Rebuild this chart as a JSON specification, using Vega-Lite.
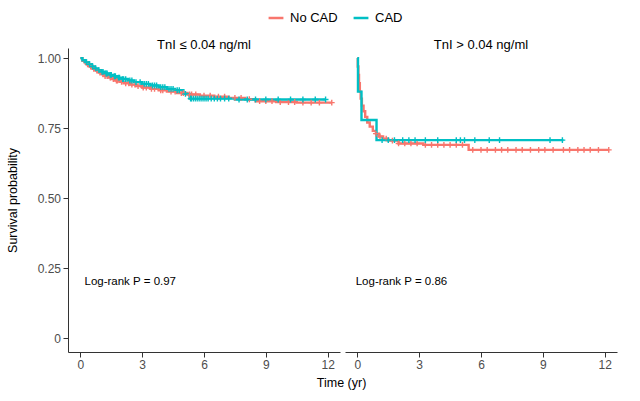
{
  "$schema": "https://vega.github.io/schema/vega-lite/v6.json",
  "background": "white",
  "padding": {"left": 6, "top": 9, "right": 5, "bottom": 5},
  "spacing": 5,
  "title": {"text": "Time (yr)", "orient": "bottom", "anchor": "middle", "fontSize": 12.5, "fontWeight": "normal", "font": "Liberation Sans", "color": "#000000", "offset": 6, "dx": 30},
  "datasets": {
    "curves": [
      {"panel": "L", "group": "No CAD", "t": 0, "s": 1.0},
      {"panel": "L", "group": "No CAD", "t": 0.1, "s": 0.99},
      {"panel": "L", "group": "No CAD", "t": 0.2, "s": 0.985},
      {"panel": "L", "group": "No CAD", "t": 0.3, "s": 0.978},
      {"panel": "L", "group": "No CAD", "t": 0.45, "s": 0.97},
      {"panel": "L", "group": "No CAD", "t": 0.6, "s": 0.962},
      {"panel": "L", "group": "No CAD", "t": 0.75, "s": 0.955},
      {"panel": "L", "group": "No CAD", "t": 0.9, "s": 0.948},
      {"panel": "L", "group": "No CAD", "t": 1.05, "s": 0.942},
      {"panel": "L", "group": "No CAD", "t": 1.2, "s": 0.936},
      {"panel": "L", "group": "No CAD", "t": 1.35, "s": 0.93},
      {"panel": "L", "group": "No CAD", "t": 1.5, "s": 0.925},
      {"panel": "L", "group": "No CAD", "t": 1.7, "s": 0.92},
      {"panel": "L", "group": "No CAD", "t": 1.9, "s": 0.915},
      {"panel": "L", "group": "No CAD", "t": 2.1, "s": 0.91},
      {"panel": "L", "group": "No CAD", "t": 2.4, "s": 0.905},
      {"panel": "L", "group": "No CAD", "t": 2.7, "s": 0.9},
      {"panel": "L", "group": "No CAD", "t": 3.0, "s": 0.895},
      {"panel": "L", "group": "No CAD", "t": 3.4, "s": 0.89},
      {"panel": "L", "group": "No CAD", "t": 3.8, "s": 0.885},
      {"panel": "L", "group": "No CAD", "t": 4.2, "s": 0.88},
      {"panel": "L", "group": "No CAD", "t": 4.7, "s": 0.875},
      {"panel": "L", "group": "No CAD", "t": 5.2, "s": 0.87},
      {"panel": "L", "group": "No CAD", "t": 5.8, "s": 0.866},
      {"panel": "L", "group": "No CAD", "t": 6.5, "s": 0.862},
      {"panel": "L", "group": "No CAD", "t": 7.2, "s": 0.858},
      {"panel": "L", "group": "No CAD", "t": 8.0, "s": 0.853},
      {"panel": "L", "group": "No CAD", "t": 8.5, "s": 0.846},
      {"panel": "L", "group": "No CAD", "t": 9.5, "s": 0.843},
      {"panel": "L", "group": "No CAD", "t": 10.5, "s": 0.841},
      {"panel": "L", "group": "No CAD", "t": 12.2, "s": 0.841},
      {"panel": "L", "group": "CAD", "t": 0, "s": 1.0},
      {"panel": "L", "group": "CAD", "t": 0.1, "s": 0.992},
      {"panel": "L", "group": "CAD", "t": 0.25, "s": 0.985},
      {"panel": "L", "group": "CAD", "t": 0.4, "s": 0.978},
      {"panel": "L", "group": "CAD", "t": 0.55, "s": 0.97},
      {"panel": "L", "group": "CAD", "t": 0.7, "s": 0.963},
      {"panel": "L", "group": "CAD", "t": 0.85, "s": 0.957},
      {"panel": "L", "group": "CAD", "t": 1.0, "s": 0.951},
      {"panel": "L", "group": "CAD", "t": 1.2, "s": 0.945},
      {"panel": "L", "group": "CAD", "t": 1.4, "s": 0.94},
      {"panel": "L", "group": "CAD", "t": 1.6, "s": 0.935},
      {"panel": "L", "group": "CAD", "t": 1.8, "s": 0.93},
      {"panel": "L", "group": "CAD", "t": 2.0, "s": 0.925},
      {"panel": "L", "group": "CAD", "t": 2.3, "s": 0.92},
      {"panel": "L", "group": "CAD", "t": 2.6, "s": 0.914},
      {"panel": "L", "group": "CAD", "t": 3.0, "s": 0.908},
      {"panel": "L", "group": "CAD", "t": 3.4, "s": 0.902},
      {"panel": "L", "group": "CAD", "t": 3.8, "s": 0.896},
      {"panel": "L", "group": "CAD", "t": 4.2, "s": 0.89},
      {"panel": "L", "group": "CAD", "t": 4.6, "s": 0.885},
      {"panel": "L", "group": "CAD", "t": 5.0, "s": 0.872},
      {"panel": "L", "group": "CAD", "t": 5.3, "s": 0.855},
      {"panel": "L", "group": "CAD", "t": 7.5, "s": 0.852},
      {"panel": "L", "group": "CAD", "t": 11.9, "s": 0.852},
      {"panel": "R", "group": "No CAD", "t": 0, "s": 1.0},
      {"panel": "R", "group": "No CAD", "t": 0.02, "s": 0.97},
      {"panel": "R", "group": "No CAD", "t": 0.05, "s": 0.94},
      {"panel": "R", "group": "No CAD", "t": 0.08, "s": 0.91},
      {"panel": "R", "group": "No CAD", "t": 0.12, "s": 0.88},
      {"panel": "R", "group": "No CAD", "t": 0.16, "s": 0.855},
      {"panel": "R", "group": "No CAD", "t": 0.22, "s": 0.83},
      {"panel": "R", "group": "No CAD", "t": 0.3, "s": 0.81},
      {"panel": "R", "group": "No CAD", "t": 0.38, "s": 0.79},
      {"panel": "R", "group": "No CAD", "t": 0.48, "s": 0.77},
      {"panel": "R", "group": "No CAD", "t": 0.6, "s": 0.755},
      {"panel": "R", "group": "No CAD", "t": 0.75, "s": 0.74},
      {"panel": "R", "group": "No CAD", "t": 0.9, "s": 0.73},
      {"panel": "R", "group": "No CAD", "t": 1.05, "s": 0.72},
      {"panel": "R", "group": "No CAD", "t": 1.25, "s": 0.712},
      {"panel": "R", "group": "No CAD", "t": 1.5, "s": 0.705},
      {"panel": "R", "group": "No CAD", "t": 2.0, "s": 0.695},
      {"panel": "R", "group": "No CAD", "t": 3.2, "s": 0.69},
      {"panel": "R", "group": "No CAD", "t": 5.4, "s": 0.672},
      {"panel": "R", "group": "No CAD", "t": 12.2, "s": 0.672},
      {"panel": "R", "group": "CAD", "t": 0, "s": 1.0},
      {"panel": "R", "group": "CAD", "t": 0.03, "s": 0.88},
      {"panel": "R", "group": "CAD", "t": 0.2, "s": 0.779},
      {"panel": "R", "group": "CAD", "t": 0.93, "s": 0.707},
      {"panel": "R", "group": "CAD", "t": 10.0, "s": 0.707}
    ],
    "censors": [
      {"panel": "L", "group": "No CAD", "t": 0.35, "s": 0.978},
      {"panel": "L", "group": "No CAD", "t": 0.5, "s": 0.97},
      {"panel": "L", "group": "No CAD", "t": 0.65, "s": 0.962},
      {"panel": "L", "group": "No CAD", "t": 0.8, "s": 0.955},
      {"panel": "L", "group": "No CAD", "t": 0.95, "s": 0.948},
      {"panel": "L", "group": "No CAD", "t": 1.1, "s": 0.942},
      {"panel": "L", "group": "No CAD", "t": 1.2, "s": 0.936},
      {"panel": "L", "group": "No CAD", "t": 1.3, "s": 0.936},
      {"panel": "L", "group": "No CAD", "t": 1.45, "s": 0.93},
      {"panel": "L", "group": "No CAD", "t": 1.6, "s": 0.925},
      {"panel": "L", "group": "No CAD", "t": 1.75, "s": 0.92},
      {"panel": "L", "group": "No CAD", "t": 1.8, "s": 0.92},
      {"panel": "L", "group": "No CAD", "t": 2.0, "s": 0.915},
      {"panel": "L", "group": "No CAD", "t": 2.2, "s": 0.91},
      {"panel": "L", "group": "No CAD", "t": 2.35, "s": 0.91},
      {"panel": "L", "group": "No CAD", "t": 2.5, "s": 0.905},
      {"panel": "L", "group": "No CAD", "t": 2.65, "s": 0.905},
      {"panel": "L", "group": "No CAD", "t": 2.8, "s": 0.9},
      {"panel": "L", "group": "No CAD", "t": 3.05, "s": 0.895},
      {"panel": "L", "group": "No CAD", "t": 3.2, "s": 0.895},
      {"panel": "L", "group": "No CAD", "t": 3.45, "s": 0.89},
      {"panel": "L", "group": "No CAD", "t": 3.6, "s": 0.89},
      {"panel": "L", "group": "No CAD", "t": 3.9, "s": 0.885},
      {"panel": "L", "group": "No CAD", "t": 4.0, "s": 0.885},
      {"panel": "L", "group": "No CAD", "t": 4.4, "s": 0.88},
      {"panel": "L", "group": "No CAD", "t": 4.6, "s": 0.88},
      {"panel": "L", "group": "No CAD", "t": 4.9, "s": 0.875},
      {"panel": "L", "group": "No CAD", "t": 5.0, "s": 0.875},
      {"panel": "L", "group": "No CAD", "t": 5.3, "s": 0.87},
      {"panel": "L", "group": "No CAD", "t": 5.4, "s": 0.87},
      {"panel": "L", "group": "No CAD", "t": 5.6, "s": 0.87},
      {"panel": "L", "group": "No CAD", "t": 6.0, "s": 0.866},
      {"panel": "L", "group": "No CAD", "t": 6.3, "s": 0.866},
      {"panel": "L", "group": "No CAD", "t": 6.7, "s": 0.862},
      {"panel": "L", "group": "No CAD", "t": 7.0, "s": 0.862},
      {"panel": "L", "group": "No CAD", "t": 7.5, "s": 0.858},
      {"panel": "L", "group": "No CAD", "t": 7.8, "s": 0.858},
      {"panel": "L", "group": "No CAD", "t": 8.2, "s": 0.853},
      {"panel": "L", "group": "No CAD", "t": 8.7, "s": 0.846},
      {"panel": "L", "group": "No CAD", "t": 9.0, "s": 0.846},
      {"panel": "L", "group": "No CAD", "t": 9.3, "s": 0.846},
      {"panel": "L", "group": "No CAD", "t": 9.7, "s": 0.843},
      {"panel": "L", "group": "No CAD", "t": 10.1, "s": 0.843},
      {"panel": "L", "group": "No CAD", "t": 10.4, "s": 0.843},
      {"panel": "L", "group": "No CAD", "t": 10.8, "s": 0.841},
      {"panel": "L", "group": "No CAD", "t": 11.2, "s": 0.841},
      {"panel": "L", "group": "No CAD", "t": 11.6, "s": 0.841},
      {"panel": "L", "group": "No CAD", "t": 12.2, "s": 0.841},
      {"panel": "L", "group": "CAD", "t": 0.3, "s": 0.985},
      {"panel": "L", "group": "CAD", "t": 0.45, "s": 0.978},
      {"panel": "L", "group": "CAD", "t": 0.6, "s": 0.97},
      {"panel": "L", "group": "CAD", "t": 0.75, "s": 0.963},
      {"panel": "L", "group": "CAD", "t": 0.9, "s": 0.957},
      {"panel": "L", "group": "CAD", "t": 1.05, "s": 0.951},
      {"panel": "L", "group": "CAD", "t": 1.1, "s": 0.951},
      {"panel": "L", "group": "CAD", "t": 1.25, "s": 0.945},
      {"panel": "L", "group": "CAD", "t": 1.3, "s": 0.945},
      {"panel": "L", "group": "CAD", "t": 1.45, "s": 0.94},
      {"panel": "L", "group": "CAD", "t": 1.5, "s": 0.94},
      {"panel": "L", "group": "CAD", "t": 1.65, "s": 0.935},
      {"panel": "L", "group": "CAD", "t": 1.7, "s": 0.935},
      {"panel": "L", "group": "CAD", "t": 1.85, "s": 0.93},
      {"panel": "L", "group": "CAD", "t": 1.9, "s": 0.93},
      {"panel": "L", "group": "CAD", "t": 2.05, "s": 0.925},
      {"panel": "L", "group": "CAD", "t": 2.1, "s": 0.925},
      {"panel": "L", "group": "CAD", "t": 2.2, "s": 0.925},
      {"panel": "L", "group": "CAD", "t": 2.4, "s": 0.92},
      {"panel": "L", "group": "CAD", "t": 2.5, "s": 0.92},
      {"panel": "L", "group": "CAD", "t": 2.7, "s": 0.914},
      {"panel": "L", "group": "CAD", "t": 2.9, "s": 0.914},
      {"panel": "L", "group": "CAD", "t": 3.1, "s": 0.908},
      {"panel": "L", "group": "CAD", "t": 3.2, "s": 0.908},
      {"panel": "L", "group": "CAD", "t": 3.3, "s": 0.908},
      {"panel": "L", "group": "CAD", "t": 3.5, "s": 0.902},
      {"panel": "L", "group": "CAD", "t": 3.6, "s": 0.902},
      {"panel": "L", "group": "CAD", "t": 3.7, "s": 0.902},
      {"panel": "L", "group": "CAD", "t": 3.9, "s": 0.896},
      {"panel": "L", "group": "CAD", "t": 4.0, "s": 0.896},
      {"panel": "L", "group": "CAD", "t": 4.1, "s": 0.896},
      {"panel": "L", "group": "CAD", "t": 4.3, "s": 0.89},
      {"panel": "L", "group": "CAD", "t": 4.4, "s": 0.89},
      {"panel": "L", "group": "CAD", "t": 4.5, "s": 0.89},
      {"panel": "L", "group": "CAD", "t": 4.7, "s": 0.885},
      {"panel": "L", "group": "CAD", "t": 4.8, "s": 0.885},
      {"panel": "L", "group": "CAD", "t": 5.1, "s": 0.872},
      {"panel": "L", "group": "CAD", "t": 5.35, "s": 0.855},
      {"panel": "L", "group": "CAD", "t": 5.4, "s": 0.855},
      {"panel": "L", "group": "CAD", "t": 5.5, "s": 0.855},
      {"panel": "L", "group": "CAD", "t": 5.6, "s": 0.855},
      {"panel": "L", "group": "CAD", "t": 5.7, "s": 0.855},
      {"panel": "L", "group": "CAD", "t": 5.8, "s": 0.855},
      {"panel": "L", "group": "CAD", "t": 5.9, "s": 0.855},
      {"panel": "L", "group": "CAD", "t": 6.0, "s": 0.855},
      {"panel": "L", "group": "CAD", "t": 6.1, "s": 0.855},
      {"panel": "L", "group": "CAD", "t": 6.2, "s": 0.855},
      {"panel": "L", "group": "CAD", "t": 6.35, "s": 0.855},
      {"panel": "L", "group": "CAD", "t": 6.5, "s": 0.855},
      {"panel": "L", "group": "CAD", "t": 6.65, "s": 0.855},
      {"panel": "L", "group": "CAD", "t": 6.8, "s": 0.855},
      {"panel": "L", "group": "CAD", "t": 7.0, "s": 0.855},
      {"panel": "L", "group": "CAD", "t": 7.2, "s": 0.855},
      {"panel": "L", "group": "CAD", "t": 7.7, "s": 0.852},
      {"panel": "L", "group": "CAD", "t": 8.1, "s": 0.852},
      {"panel": "L", "group": "CAD", "t": 8.5, "s": 0.852},
      {"panel": "L", "group": "CAD", "t": 9.0, "s": 0.852},
      {"panel": "L", "group": "CAD", "t": 9.6, "s": 0.852},
      {"panel": "L", "group": "CAD", "t": 10.2, "s": 0.852},
      {"panel": "L", "group": "CAD", "t": 10.8, "s": 0.852},
      {"panel": "L", "group": "CAD", "t": 11.4, "s": 0.852},
      {"panel": "L", "group": "CAD", "t": 11.9, "s": 0.852},
      {"panel": "R", "group": "No CAD", "t": 0.9, "s": 0.73},
      {"panel": "R", "group": "No CAD", "t": 1.1, "s": 0.72},
      {"panel": "R", "group": "No CAD", "t": 1.4, "s": 0.712},
      {"panel": "R", "group": "No CAD", "t": 1.7, "s": 0.705},
      {"panel": "R", "group": "No CAD", "t": 2.0, "s": 0.695},
      {"panel": "R", "group": "No CAD", "t": 2.3, "s": 0.695},
      {"panel": "R", "group": "No CAD", "t": 2.6, "s": 0.695},
      {"panel": "R", "group": "No CAD", "t": 2.9, "s": 0.695},
      {"panel": "R", "group": "No CAD", "t": 3.3, "s": 0.69},
      {"panel": "R", "group": "No CAD", "t": 3.6, "s": 0.69},
      {"panel": "R", "group": "No CAD", "t": 3.9, "s": 0.69},
      {"panel": "R", "group": "No CAD", "t": 4.2, "s": 0.69},
      {"panel": "R", "group": "No CAD", "t": 4.5, "s": 0.69},
      {"panel": "R", "group": "No CAD", "t": 4.8, "s": 0.69},
      {"panel": "R", "group": "No CAD", "t": 5.1, "s": 0.69},
      {"panel": "R", "group": "No CAD", "t": 5.6, "s": 0.672},
      {"panel": "R", "group": "No CAD", "t": 6.0, "s": 0.672},
      {"panel": "R", "group": "No CAD", "t": 6.3, "s": 0.672},
      {"panel": "R", "group": "No CAD", "t": 6.7, "s": 0.672},
      {"panel": "R", "group": "No CAD", "t": 7.0, "s": 0.672},
      {"panel": "R", "group": "No CAD", "t": 7.3, "s": 0.672},
      {"panel": "R", "group": "No CAD", "t": 7.7, "s": 0.672},
      {"panel": "R", "group": "No CAD", "t": 8.0, "s": 0.672},
      {"panel": "R", "group": "No CAD", "t": 8.4, "s": 0.672},
      {"panel": "R", "group": "No CAD", "t": 8.8, "s": 0.672},
      {"panel": "R", "group": "No CAD", "t": 9.1, "s": 0.672},
      {"panel": "R", "group": "No CAD", "t": 9.5, "s": 0.672},
      {"panel": "R", "group": "No CAD", "t": 10.0, "s": 0.672},
      {"panel": "R", "group": "No CAD", "t": 10.3, "s": 0.672},
      {"panel": "R", "group": "No CAD", "t": 10.7, "s": 0.672},
      {"panel": "R", "group": "No CAD", "t": 11.0, "s": 0.672},
      {"panel": "R", "group": "No CAD", "t": 11.3, "s": 0.672},
      {"panel": "R", "group": "No CAD", "t": 11.7, "s": 0.672},
      {"panel": "R", "group": "No CAD", "t": 12.2, "s": 0.672},
      {"panel": "R", "group": "CAD", "t": 1.2, "s": 0.707},
      {"panel": "R", "group": "CAD", "t": 1.5, "s": 0.707},
      {"panel": "R", "group": "CAD", "t": 1.8, "s": 0.707},
      {"panel": "R", "group": "CAD", "t": 2.2, "s": 0.707},
      {"panel": "R", "group": "CAD", "t": 2.5, "s": 0.707},
      {"panel": "R", "group": "CAD", "t": 2.8, "s": 0.707},
      {"panel": "R", "group": "CAD", "t": 3.3, "s": 0.707},
      {"panel": "R", "group": "CAD", "t": 3.9, "s": 0.707},
      {"panel": "R", "group": "CAD", "t": 4.8, "s": 0.707},
      {"panel": "R", "group": "CAD", "t": 5.0, "s": 0.707},
      {"panel": "R", "group": "CAD", "t": 5.2, "s": 0.707},
      {"panel": "R", "group": "CAD", "t": 5.7, "s": 0.707},
      {"panel": "R", "group": "CAD", "t": 6.4, "s": 0.707},
      {"panel": "R", "group": "CAD", "t": 6.9, "s": 0.707},
      {"panel": "R", "group": "CAD", "t": 9.35, "s": 0.707},
      {"panel": "R", "group": "CAD", "t": 9.95, "s": 0.707}
    ],
    "labels": [
      {"panel": "L", "t": 0.2, "s": 0.2, "label": "Log-rank P = 0.97"},
      {"panel": "R", "t": -0.08, "s": 0.2, "label": "Log-rank P = 0.86"}
    ]
  },
  "hconcat": [
    {
      "width": 272,
      "height": 304,
      "title": {"text": "TnI ≤ 0.04 ng/ml"},
      "layer": [
        {
          "data": {"name": "curves"},
          "transform": [{"filter": "datum.panel === 'L'"}],
          "mark": {"type": "line", "interpolate": "step-after", "strokeWidth": 2.4},
          "encoding": {
            "x": {"field": "t", "type": "quantitative", "scale": {"domain": [-0.6, 12.6], "nice": false, "zero": false}, "axis": {"values": [0, 3, 6, 9, 12], "title": null}},
            "y": {"field": "s", "type": "quantitative", "scale": {"domain": [-0.05, 1.036], "nice": false}, "axis": {"values": [0, 0.25, 0.5, 0.75, 1], "labelExpr": "datum.value === 0 ? '0' : format(datum.value, '.2f')", "title": "Survival probability"}},
            "color": {"field": "group", "type": "nominal", "scale": {"domain": ["No CAD", "CAD"], "range": ["#F8766D", "#00BFC4"]}, "legend": {"title": null, "orient": "none", "legendX": 199, "legendY": -39, "direction": "horizontal"}},
            "detail": {"field": "group"}
          }
        },
        {
          "data": {"name": "censors"},
          "transform": [{"filter": "datum.panel === 'L'"}],
          "mark": {"type": "point", "shape": "M-1,0L1,0M0,-1L0,1", "filled": false, "size": 34, "strokeWidth": 1.4, "opacity": 1},
          "encoding": {
            "x": {"field": "t", "type": "quantitative"},
            "y": {"field": "s", "type": "quantitative"},
            "color": {"field": "group", "type": "nominal"}
          }
        },
        {
          "data": {"name": "labels"},
          "transform": [{"filter": "datum.panel === 'L'"}],
          "mark": {"type": "text", "align": "left", "baseline": "middle", "fontSize": 11.5, "font": "Liberation Sans", "color": "#000000"},
          "encoding": {
            "x": {"field": "t", "type": "quantitative"},
            "y": {"field": "s", "type": "quantitative"},
            "text": {"field": "label"}
          }
        }
      ]
    },
    {
      "width": 272,
      "height": 304,
      "title": {"text": "TnI > 0.04 ng/ml"},
      "layer": [
        {
          "data": {"name": "curves"},
          "transform": [{"filter": "datum.panel === 'R'"}],
          "mark": {"type": "line", "interpolate": "step-after", "strokeWidth": 2.4},
          "encoding": {
            "x": {"field": "t", "type": "quantitative", "scale": {"domain": [-0.6, 12.6], "nice": false, "zero": false}, "axis": {"values": [0, 3, 6, 9, 12], "title": null}},
            "y": {"field": "s", "type": "quantitative", "scale": {"domain": [-0.05, 1.036], "nice": false}, "axis": null},
            "color": {"field": "group", "type": "nominal", "scale": {"domain": ["No CAD", "CAD"], "range": ["#F8766D", "#00BFC4"]}, "legend": {"title": null, "orient": "none", "legendX": 199, "legendY": -39, "direction": "horizontal"}},
            "detail": {"field": "group"}
          }
        },
        {
          "data": {"name": "censors"},
          "transform": [{"filter": "datum.panel === 'R'"}],
          "mark": {"type": "point", "shape": "M-1,0L1,0M0,-1L0,1", "filled": false, "size": 34, "strokeWidth": 1.4, "opacity": 1},
          "encoding": {
            "x": {"field": "t", "type": "quantitative"},
            "y": {"field": "s", "type": "quantitative"},
            "color": {"field": "group", "type": "nominal"}
          }
        },
        {
          "data": {"name": "labels"},
          "transform": [{"filter": "datum.panel === 'R'"}],
          "mark": {"type": "text", "align": "left", "baseline": "middle", "fontSize": 11.5, "font": "Liberation Sans", "color": "#000000"},
          "encoding": {
            "x": {"field": "t", "type": "quantitative"},
            "y": {"field": "s", "type": "quantitative"},
            "text": {"field": "label"}
          }
        }
      ]
    }
  ],
  "resolve": {"scale": {"y": "independent", "x": "independent"}},
  "config": {
    "font": "Liberation Sans",
    "view": {"stroke": null},
    "title": {"fontSize": 13, "fontWeight": "normal", "font": "Liberation Sans", "color": "#000000", "offset": -4},
    "axis": {
      "grid": false,
      "domainColor": "#333333",
      "domainWidth": 1,
      "tickColor": "#333333",
      "tickSize": 5,
      "labelFont": "Liberation Sans",
      "labelFontSize": 12,
      "labelColor": "#4D4D4D",
      "labelPadding": 2.5,
      "titleFont": "Liberation Sans",
      "titleFontSize": 12.5,
      "titleFontWeight": "normal",
      "titleColor": "#000000"
    },
    "axisY": {"titlePadding": 18},
    "legend": {
      "symbolType": "stroke",
      "symbolStrokeWidth": 2.5,
      "symbolSize": 220,
      "labelFontSize": 13,
      "labelFont": "Liberation Sans",
      "labelColor": "#000000",
      "columnPadding": 10,
      "labelOffset": 5
    }
  }
}
